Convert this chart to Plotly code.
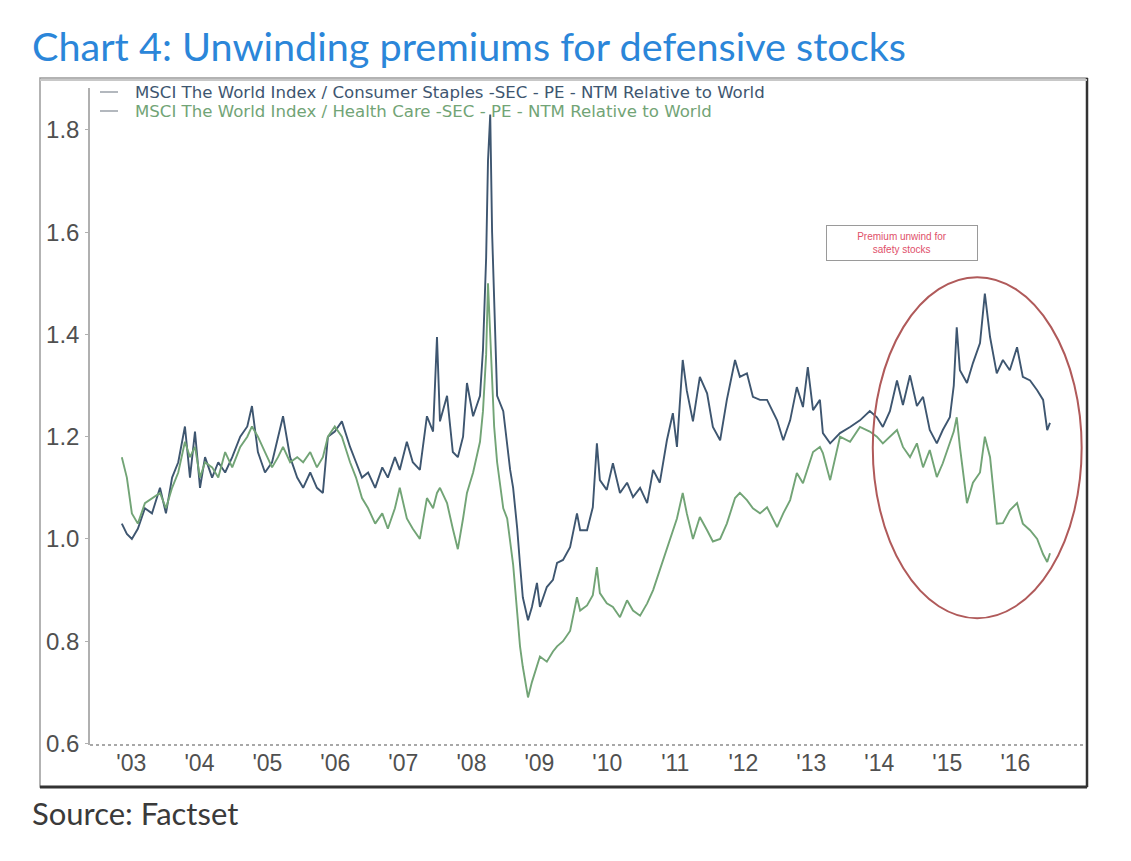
import plotly.graph_objects as go

# Relative NTM PE vs MSCI World
dates = [
    "2003-04-11", "2003-05-08", "2003-06-04", "2003-07-06", "2003-08-13", "2003-09-20",
    "2003-11-02", "2003-12-04", "2004-01-06", "2004-02-08", "2004-03-15", "2004-04-11",
    "2004-05-08", "2004-06-04", "2004-07-01", "2004-08-08", "2004-09-10", "2004-10-17",
    "2004-11-24", "2005-01-06", "2005-02-13", "2005-03-10", "2005-04-11", "2005-05-19",
    "2005-06-26", "2005-07-28", "2005-08-24", "2005-10-01", "2005-11-08", "2005-12-10",
    "2006-01-17", "2006-02-22", "2006-03-26", "2006-04-22", "2006-05-29", "2006-07-06",
    "2006-08-19", "2006-09-20", "2006-10-22", "2006-11-24", "2007-01-01", "2007-02-08",
    "2007-03-10", "2007-04-17", "2007-05-13", "2007-06-20", "2007-07-22", "2007-08-29",
    "2007-10-06", "2007-11-08", "2007-11-29", "2007-12-15", "2008-01-22", "2008-02-22",
    "2008-03-20", "2008-04-17", "2008-05-08", "2008-06-10", "2008-07-17", "2008-08-02",
    "2008-08-19", "2008-08-29", "2008-09-10", "2008-09-20", "2008-10-01", "2008-10-17",
    "2008-11-19", "2008-12-10", "2008-12-26", "2009-01-11", "2009-02-02", "2009-02-17",
    "2009-03-04", "2009-04-01", "2009-04-22", "2009-05-19", "2009-06-04", "2009-07-11",
    "2009-08-13", "2009-09-04", "2009-10-06", "2009-11-13", "2009-12-20", "2010-01-06",
    "2010-02-12", "2010-03-15", "2010-04-06", "2010-04-22", "2010-05-29", "2010-07-01",
    "2010-08-08", "2010-09-15", "2010-10-17", "2010-11-24", "2011-01-01", "2011-02-02",
    "2011-03-10", "2011-04-17", "2011-05-19", "2011-06-10", "2011-07-11", "2011-08-02",
    "2011-09-04", "2011-10-11", "2011-11-19", "2011-12-20", "2012-01-28", "2012-03-04",
    "2012-04-17", "2012-05-13", "2012-06-20", "2012-07-22", "2012-08-29", "2012-10-06",
    "2012-11-29", "2013-01-01", "2013-02-07", "2013-03-15", "2013-04-17", "2013-05-13",
    "2013-06-10", "2013-07-17", "2013-08-02", "2013-09-10", "2013-11-02", "2013-12-26",
    "2014-02-17", "2014-04-11", "2014-05-19", "2014-06-20", "2014-07-28", "2014-09-04",
    "2014-10-06", "2014-11-13", "2014-12-20", "2015-01-22", "2015-02-27", "2015-04-06",
    "2015-05-08", "2015-06-15", "2015-07-06", "2015-07-22", "2015-08-08", "2015-09-15",
    "2015-10-17", "2015-11-24", "2015-12-20", "2016-01-17", "2016-02-22", "2016-03-26",
    "2016-05-02", "2016-06-10", "2016-07-11", "2016-08-19", "2016-09-26", "2016-10-28",
    "2016-11-19", "2016-12-04",
]

staples_pe = [
    1.03, 1.01, 1.00, 1.02, 1.06, 1.05,
    1.10, 1.05, 1.12, 1.15, 1.22, 1.12,
    1.21, 1.10, 1.16, 1.12, 1.15, 1.13,
    1.16, 1.20, 1.22, 1.26, 1.17, 1.13,
    1.15, 1.20, 1.24, 1.16, 1.12, 1.10,
    1.13, 1.10, 1.09, 1.20, 1.21, 1.23,
    1.18, 1.15, 1.12, 1.13, 1.10, 1.14,
    1.12, 1.16, 1.135, 1.19, 1.15, 1.135,
    1.24, 1.21, 1.395, 1.23, 1.28, 1.17,
    1.16, 1.20, 1.305, 1.24, 1.28, 1.37,
    1.55, 1.74, 1.83, 1.60, 1.45, 1.28,
    1.25, 1.18, 1.135, 1.10, 1.02, 0.95,
    0.886, 0.841, 0.867, 0.914, 0.867, 0.906,
    0.92, 0.953, 0.959, 0.984, 1.05, 1.017,
    1.017, 1.062, 1.187, 1.115, 1.096, 1.148,
    1.09, 1.11, 1.082, 1.10, 1.07, 1.135,
    1.11, 1.193, 1.246, 1.18, 1.35, 1.29,
    1.23, 1.317, 1.285, 1.219, 1.193, 1.272,
    1.35, 1.317, 1.324, 1.278, 1.272, 1.272,
    1.232, 1.193, 1.232, 1.297, 1.258, 1.336,
    1.252, 1.272, 1.207, 1.187, 1.207, 1.219,
    1.232, 1.25, 1.238, 1.219, 1.25, 1.31,
    1.262, 1.32, 1.26, 1.278, 1.213, 1.187,
    1.213, 1.238, 1.30, 1.414, 1.33, 1.305,
    1.344, 1.383, 1.48, 1.395, 1.324, 1.35,
    1.33, 1.375, 1.317, 1.31, 1.291, 1.272,
    1.213, 1.227,
]

health_pe = [
    1.16, 1.12, 1.05, 1.03, 1.07, 1.08,
    1.09, 1.06, 1.10, 1.13, 1.19, 1.16,
    1.18, 1.12, 1.15, 1.14, 1.12, 1.17,
    1.14, 1.18, 1.20, 1.22, 1.20, 1.17,
    1.14, 1.16, 1.18, 1.15, 1.16, 1.15,
    1.17, 1.14, 1.16, 1.20, 1.22, 1.20,
    1.15, 1.12, 1.08, 1.06, 1.03, 1.05,
    1.02, 1.06, 1.10, 1.04, 1.02, 1.00,
    1.08, 1.06, 1.09, 1.10, 1.07, 1.02,
    0.98, 1.04, 1.09, 1.13, 1.19, 1.25,
    1.36, 1.50, 1.40, 1.30, 1.22, 1.15,
    1.06, 1.04, 1.00, 0.95, 0.855, 0.79,
    0.75, 0.69, 0.72, 0.75, 0.77, 0.76,
    0.78, 0.79, 0.80, 0.82, 0.886, 0.86,
    0.87, 0.89, 0.945, 0.894, 0.874, 0.867,
    0.847, 0.88, 0.86, 0.85, 0.874, 0.90,
    0.94, 0.98, 1.02, 1.04, 1.09, 1.05,
    1.00, 1.043, 1.017, 0.995, 1.00, 1.03,
    1.08, 1.09, 1.076, 1.06, 1.05, 1.062,
    1.023, 1.05, 1.076, 1.129, 1.109, 1.14,
    1.17, 1.18, 1.168, 1.115, 1.20, 1.19,
    1.219, 1.21, 1.20, 1.187, 1.20, 1.213,
    1.18, 1.16, 1.187, 1.14, 1.174, 1.121,
    1.148, 1.187, 1.21, 1.238, 1.18, 1.07,
    1.11, 1.13, 1.20, 1.16, 1.03, 1.031,
    1.056, 1.07, 1.03, 1.017, 1.00, 0.97,
    0.955, 0.972,
]

year_ticks = ["2003-06-01", "2004-06-01", "2005-06-01", "2006-06-01", "2007-06-01",
              "2008-06-01", "2009-06-01", "2010-06-01", "2011-06-01", "2012-06-01",
              "2013-06-01", "2014-06-01", "2015-06-01", "2016-06-01"]
year_labels = ["'03", "'04", "'05", "'06", "'07", "'08", "'09", "'10", "'11", "'12",
               "'13", "'14", "'15", "'16"]
y_ticks = [0.6, 0.8, 1.0, 1.2, 1.4, 1.6, 1.8]
y_labels = ["0.6", "0.8", "1.0", "1.2", "1.4", "1.6", "1.8"]

staples_name = "MSCI The World Index / Consumer Staples -SEC - PE - NTM Relative to World"
health_name = "MSCI The World Index / Health Care -SEC - PE - NTM Relative to World"

blue = "#3e5670"
green = "#72a476"

fig = go.Figure()
fig.add_trace(go.Scatter(x=dates, y=staples_pe, mode="lines", name=staples_name,
                         line=dict(color=blue, width=1.9), showlegend=False))
fig.add_trace(go.Scatter(x=dates, y=health_pe, mode="lines", name=health_name,
                         line=dict(color=green, width=1.9), showlegend=False))

# page is drawn 8px in from the window corner, so work in window pixels
OFF = 8
W, H = 1131 - OFF, 861 - OFF
plot_l, plot_r, plot_t, plot_b = 90, 1085, 88, 745
L, T = plot_l - OFF, plot_t - OFF
R, B = W - (plot_r - OFF), H - (plot_b - OFF)


def px(xp):
    return (xp - plot_l) / (plot_r - plot_l)


def py(yp):
    return (plot_b - yp) / (plot_b - plot_t)


# chart frame
fig.add_shape(type="rect", xref="paper", yref="paper",
              x0=px(40), x1=px(1087), y0=py(787), y1=py(78),
              line=dict(color="#9a9a9a", width=1.5), layer="below")
fig.add_shape(type="line", xref="paper", yref="paper",
              x0=px(40), x1=px(1087), y0=py(787), y1=py(787),
              line=dict(color="#333333", width=3))
fig.add_shape(type="line", xref="paper", yref="paper",
              x0=px(1087), x1=px(1087), y0=py(787), y1=py(78),
              line=dict(color="#333333", width=2.5))
fig.add_shape(type="line", xref="paper", yref="paper",
              x0=px(40), x1=px(1087), y0=py(80), y1=py(80),
              line=dict(color="#c8c8c8", width=2))
# dotted x axis line
fig.add_shape(type="line", xref="paper", yref="paper",
              x0=0, x1=1, y0=0, y1=0,
              line=dict(color="#a8a8a8", width=2, dash="dot"))

# legend drawn by hand
for row_y, colour, label in [(92, blue, staples_name), (111, green, health_name)]:
    fig.add_shape(type="line", xref="paper", yref="paper",
                  x0=px(100), x1=px(118), y0=py(row_y), y1=py(row_y),
                  line=dict(color="#9aa0a8", width=1.5))
    fig.add_annotation(x=px(133), y=py(row_y), xref="paper", yref="paper",
                       text=label, showarrow=False, xanchor="left", yanchor="middle",
                       font=dict(size=16.6, color=colour, family="DejaVu Sans"))

# highlight circle
fig.add_shape(type="circle", xref="x", yref="y",
              x0="2014-04-27", x1="2017-05-23", y0=0.845, y1=1.512,
              line=dict(color="#b05a5a", width=2))

fig.add_annotation(x="2014-10-01", y=1.579, xref="x", yref="y",
                   text="Premium unwind for<br>safety stocks", showarrow=False,
                   font=dict(size=10, color="#e0506a", family="Liberation Sans"),
                   bordercolor="#9a9a9a", borderwidth=1, borderpad=5, width=140,
                   bgcolor="white")

fig.add_annotation(x=px(30), y=py(46), xref="paper", yref="paper",
                   text="Chart 4: Unwinding premiums for defensive stocks",
                   showarrow=False, xanchor="left", yanchor="middle",
                   font=dict(size=39.6, color="#2b86d9", family="Lato"))
fig.add_annotation(x=px(30), y=py(813), xref="paper", yref="paper",
                   text="Source: Factset", showarrow=False,
                   xanchor="left", yanchor="middle",
                   font=dict(size=31, color="#3a3a3a", family="Lato"))

fig.update_layout(
    width=W, height=H,
    margin=dict(l=L, r=R, t=T, b=B),
    paper_bgcolor="white", plot_bgcolor="white",
    font=dict(family="Liberation Sans", color="#555555"),
    xaxis=dict(type="date", range=["2002-10-22", "2017-06-10"],
               tickvals=year_ticks, ticktext=year_labels,
               showgrid=False, zeroline=False, showline=False,
               tickfont=dict(size=23, color="#505050"), ticks="",
               ticklabelstandoff=2),
    yaxis=dict(range=[0.597, 1.882], tickvals=y_ticks, ticktext=y_labels,
               showgrid=False, zeroline=False, showline=True,
               linecolor="#b0b0b0", linewidth=1.5,
               ticks="outside", ticklen=3, tickcolor="#b0b0b0",
               tickfont=dict(size=24, color="#505050"), ticklabelstandoff=1),
)

fig.write_html("out.html")
